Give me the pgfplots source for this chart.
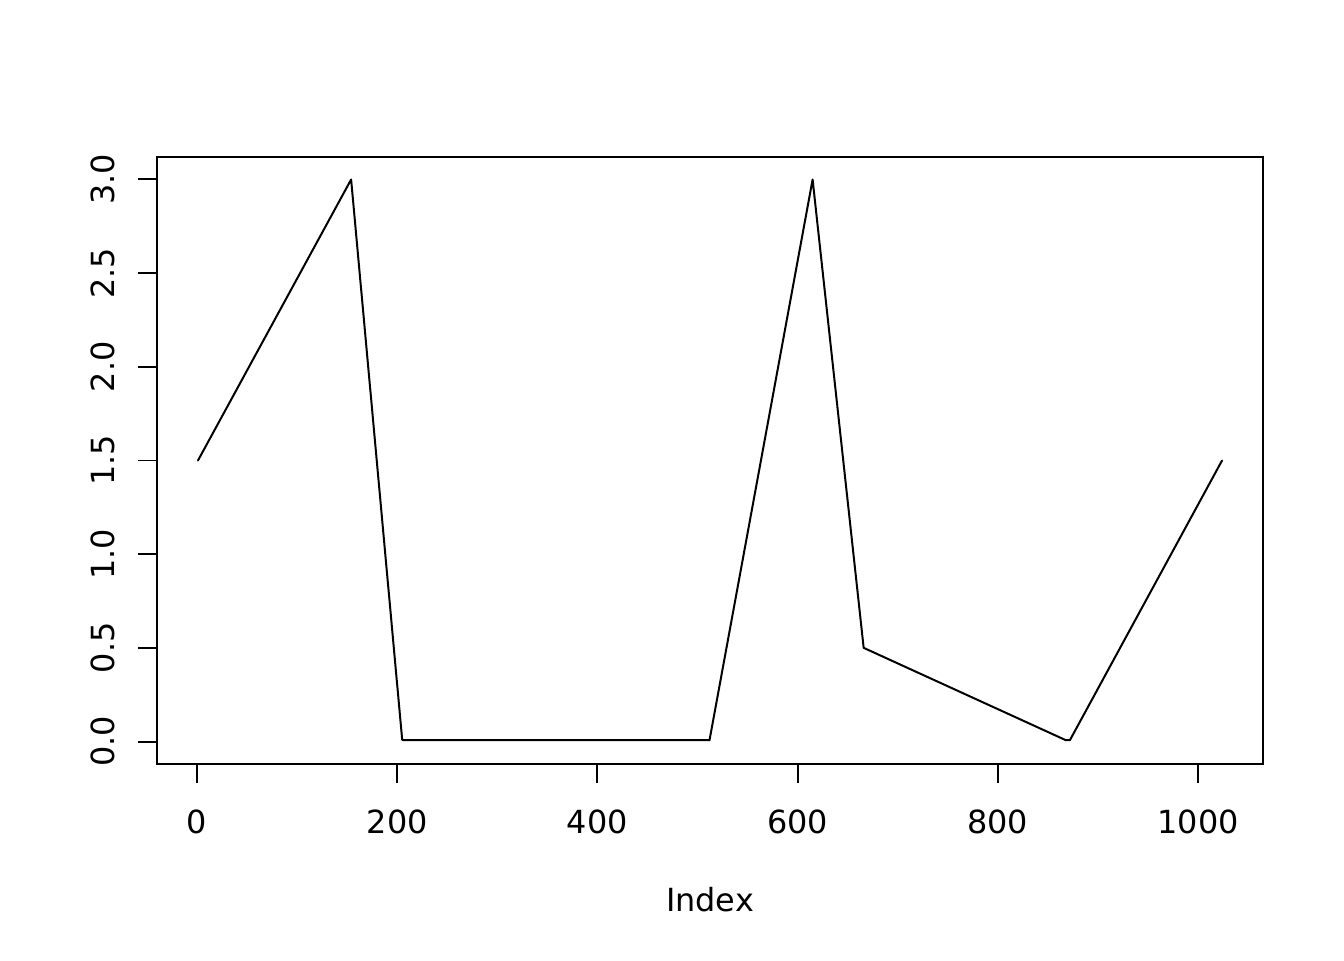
\documentclass[border=0pt]{standalone}
\usepackage{fontspec}
\setmainfont{DejaVu Sans}
\usepackage{pgfplots}
\pgfplotsset{compat=1.18}
\begin{document}
\begin{tikzpicture}
\begin{axis}[
  scale only axis,
  width=416.31pt, height=228.48pt,
  xmin=-39.92, xmax=1064.92,
  ymin=-0.12, ymax=3.12,
  xtick={0,200,400,600,800,1000},
  xticklabels={0,200,400,600,800,1000},
  ytick={0,0.5,1,1.5,2,2.5,3},
  yticklabels={0.0,0.5,1.0,1.5,2.0,2.5,3.0},
  xtick pos=bottom, ytick pos=left,
  tick align=outside,
  major tick length=7.15pt,
  every tick/.style={black, line width=0.75pt},
  axis line style={line width=0.75pt},
  /pgf/number format/assume math mode=true,
  xticklabel style={font=\fontsize{12}{14}\selectfont, anchor=center, yshift=-14.75pt},
  yticklabel style={font=\fontsize{12}{14}\selectfont, rotate=90, anchor=center, yshift=13.2pt},
  xlabel={Index},
  xlabel style={font=\fontsize{12}{14}\selectfont, anchor=center, at={(axis description cs:0.5,0)}, yshift=-51.2pt},
  scaled ticks=false,
  clip=false,
]
\addplot[black, line width=0.75pt, line join=round, line cap=round] coordinates {
 (1,1.5) (154,3.0) (205,0.01) (206,0.007) (512,0.007) (615,3.0) (666,0.5) (868,0.007) (872,0.007) (1024,1.5)
};
\end{axis}
\pgfresetboundingbox
\path (current axis.south west) ++(-59.10pt,-73.78pt) coordinate (a);
\path (current axis.north east) ++(30.49pt,59.10pt) coordinate (b);
\path[use as bounding box] (a) rectangle (b);
\end{tikzpicture}
\end{document}
